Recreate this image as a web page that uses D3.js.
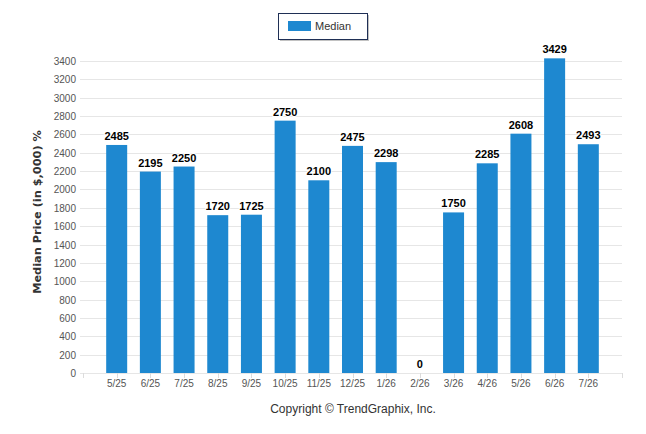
<!DOCTYPE html>
<html>
<head>
  <meta charset="utf-8">
  <title>Median Price</title>
  <script src="https://d3js.org/d3.v7.min.js"></script>
  <style>
    html, body { margin: 0; height: 100%; overflow: hidden; background: #fff; }
    #chart { width: 646px; height: 434px; }
    text { font-family: "Liberation Sans", Arial, sans-serif; }
    text.ytitle { font-family: "DejaVu Sans", sans-serif; }
  </style>
</head>
<body>
  <div id="chart"></div>
  <script>
    const months = ['5/25', '6/25', '7/25', '8/25', '9/25', '10/25', '11/25', '12/25',
      '1/26', '2/26', '3/26', '4/26', '5/26', '6/26', '7/26'];
    const median = [2485, 2195, 2250, 1720, 1725, 2750, 2100, 2475, 2298, 0, 1750, 2285, 2608, 3429, 2493];
    const yTicks = d3.range(0, 3401, 200);

    const width = 646, height = 434;
    const plot = { left: 83, right: 622, top: 61, bottom: 373 };

    const svg = d3.select('#chart')
      .append('svg')
      .attr('width', width)
      .attr('height', height);

    // index scale with one empty slot at each end
    const x = d3.scaleLinear()
      .domain([-1, months.length])
      .range([plot.left, plot.right]);

    const y = d3.scaleLinear()
      .domain([0, 3400])
      .range([plot.bottom, plot.top]);

    const barW = 21;

    // grid lines
    svg.append('g')
      .selectAll('line')
      .data(yTicks)
      .enter().append('line')
      .attr('x1', plot.left - 3)
      .attr('x2', plot.right)
      .attr('y1', d => Math.round(y(d)) + 0.5)
      .attr('y2', d => Math.round(y(d)) + 0.5)
      .attr('stroke', '#e6e6e6')
      .attr('stroke-width', 1);

    // y tick labels
    svg.append('g')
      .selectAll('text')
      .data(yTicks)
      .enter().append('text')
      .attr('x', 76)
      .attr('y', d => y(d) + 4)
      .attr('text-anchor', 'end')
      .attr('font-size', '10px')
      .attr('fill', '#555')
      .text(d => d);

    // y axis title
    svg.append('text')
      .attr('class', 'ytitle')
      .attr('transform', `translate(41,${(plot.top + plot.bottom) / 2 - 5}) rotate(-90)`)
      .attr('text-anchor', 'middle')
      .attr('font-size', '11.3px')
      .attr('font-weight', 'bold')
      .attr('fill', '#333')
      .text('Median Price (in $,000) %');

    // bars
    svg.append('g')
      .selectAll('rect')
      .data(median)
      .enter().append('rect')
      .attr('x', (d, i) => x(i) - barW / 2)
      .attr('y', d => y(d))
      .attr('width', barW)
      .attr('height', d => y(0) - y(d))
      .attr('fill', '#1e88d0');

    // value labels
    svg.append('g')
      .selectAll('text')
      .data(median)
      .enter().append('text')
      .attr('x', (d, i) => x(i))
      .attr('y', d => y(d) - 5)
      .attr('text-anchor', 'middle')
      .attr('font-size', '11px')
      .attr('font-weight', 'bold')
      .attr('fill', '#000')
      .attr('stroke', '#fff')
      .attr('stroke-width', 2)
      .attr('paint-order', 'stroke')
      .text(d => d);

    // x axis line
    svg.append('line')
      .attr('x1', plot.left)
      .attr('x2', plot.right)
      .attr('y1', plot.bottom + 0.5)
      .attr('y2', plot.bottom + 0.5)
      .attr('stroke', '#e6e6e6');

    // x ticks: axis ends and each category
    const tickIdx = [-1].concat(d3.range(months.length), [months.length]);
    svg.append('g')
      .selectAll('line')
      .data(tickIdx)
      .enter().append('line')
      .attr('x1', d => Math.round(x(d)) + 0.5)
      .attr('x2', d => Math.round(x(d)) + 0.5)
      .attr('y1', plot.bottom)
      .attr('y2', plot.bottom + 5)
      .attr('stroke', '#dcdcdc');

    svg.append('g')
      .selectAll('text')
      .data(months)
      .enter().append('text')
      .attr('x', (d, i) => x(i))
      .attr('y', plot.bottom + 14)
      .attr('text-anchor', 'middle')
      .attr('font-size', '10px')
      .attr('fill', '#555')
      .text(d => d);

    // copyright
    svg.append('text')
      .attr('x', 353)
      .attr('y', 413)
      .attr('text-anchor', 'middle')
      .attr('font-size', '12px')
      .attr('fill', '#333')
      .text('Copyright \u00A9 TrendGraphix, Inc.');

    // legend
    const legend = svg.append('g').attr('transform', 'translate(278,13)');
    legend.append('rect')
      .attr('x', 2).attr('y', 2)
      .attr('width', 89).attr('height', 26)
      .attr('fill', '#999').attr('opacity', 0.6);
    legend.append('rect')
      .attr('x', 0.5).attr('y', 0.5)
      .attr('width', 89).attr('height', 26)
      .attr('fill', '#fff')
      .attr('stroke', '#1f2f55');
    legend.append('rect')
      .attr('x', 10).attr('y', 8)
      .attr('width', 23).attr('height', 10)
      .attr('fill', '#1e88d0');
    legend.append('text')
      .attr('x', 37).attr('y', 17)
      .attr('font-size', '11px')
      .attr('fill', '#333')
      .text('Median');
  </script>
</body>
</html>
